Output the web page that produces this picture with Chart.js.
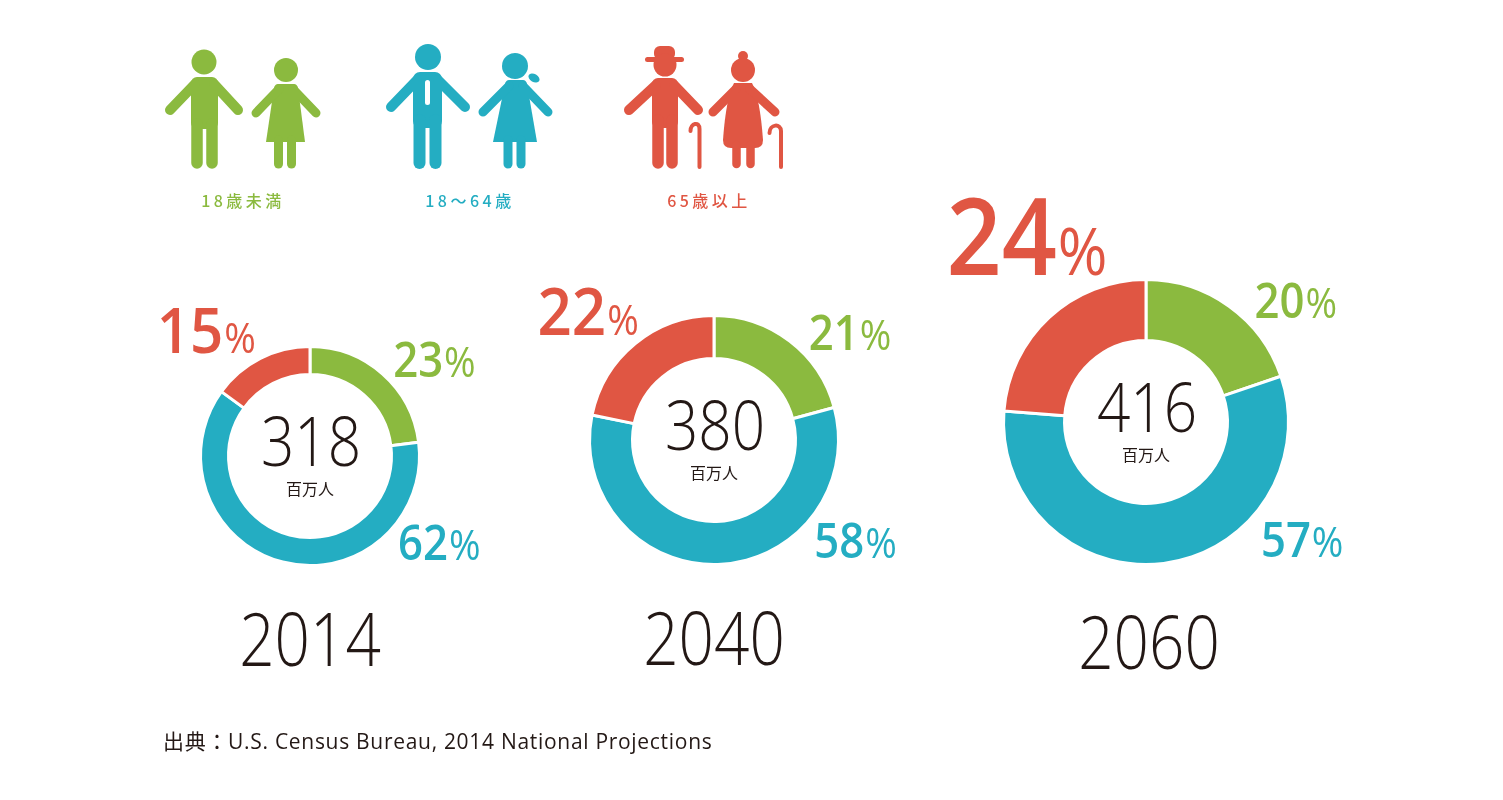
<!DOCTYPE html>
<html lang="ja">
<head>
<meta charset="utf-8">
<title>米国の年齢別人口構成</title>
<script src="https://cdn.jsdelivr.net/npm/chart.js@4.4.1/dist/chart.umd.min.js"></script>
<style>
  html, body { margin: 0; padding: 0; background: #fff; }
  #stage { position: relative; width: 1503px; height: 800px; overflow: hidden; }
  #stage canvas { position: absolute; left: 0; top: 0; }
  #icons { position: absolute; left: 0; top: 0; }
  .group-name {
    position: absolute; top: 191px; width: 160px; text-align: center;
    font: 500 16px "Noto Sans CJK JP", "Open Sans", sans-serif;
    letter-spacing: 3.5px; line-height: 18px;
  }
  #source {
    position: absolute; left: 163px; top: 731px;
    font: 21px "Open Sans", "Noto Sans CJK JP", sans-serif;
    letter-spacing: 0.7px; line-height: 20px; color: #231815;
  }
</style>
</head>
<body>
<div id="stage">
  <svg id="icons" width="1503" height="800" xmlns="http://www.w3.org/2000/svg">
    <!-- 18歳未満 -->
    <g fill="#8bba3f" stroke="#8bba3f" stroke-linecap="round">
      <circle cx="204" cy="62" r="12.5" stroke="none"/>
      <rect x="191" y="77" width="27" height="52" rx="6" stroke="none"/>
      <line x1="195" y1="84" x2="170" y2="110" stroke-width="10"/>
      <line x1="214" y1="84" x2="238" y2="110" stroke-width="10"/>
      <line x1="197" y1="124" x2="197" y2="163" stroke-width="11.5"/>
      <line x1="212" y1="124" x2="212" y2="163" stroke-width="11.5"/>

      <circle cx="286" cy="70" r="12" stroke="none"/>
      <path d="M278 84 L294 84 Q297 84 298 88 L305 142 L266 142 L274 88 Q275 84 278 84 Z" stroke="none"/>
      <line x1="279" y1="89" x2="256" y2="113" stroke-width="9"/>
      <line x1="293" y1="89" x2="316" y2="113" stroke-width="9"/>
      <line x1="278.5" y1="140" x2="278.5" y2="164" stroke-width="9"/>
      <line x1="291.5" y1="140" x2="291.5" y2="164" stroke-width="9"/>
    </g>
    <!-- 18〜64歳 -->
    <g fill="#24adc2" stroke="#24adc2" stroke-linecap="round">
      <circle cx="428" cy="57" r="13" stroke="none"/>
      <rect x="413" y="72" width="29" height="56" rx="7" stroke="none"/>
      <rect x="425" y="80" width="5" height="25" rx="2.5" fill="#fff" stroke="none"/>
      <line x1="417" y1="80" x2="391" y2="107" stroke-width="10"/>
      <line x1="438" y1="80" x2="465" y2="107" stroke-width="10"/>
      <line x1="419.5" y1="120" x2="419.5" y2="163" stroke-width="12"/>
      <line x1="435.5" y1="120" x2="435.5" y2="163" stroke-width="12"/>

      <ellipse cx="534" cy="78" rx="6" ry="4" transform="rotate(30 534 78)" stroke="none"/>
      <circle cx="515" cy="66" r="13" stroke="none"/>
      <path d="M509 80 L523 80 Q526 80 527 84 L537 142 L493 142 L505 84 Q506 80 509 80 Z" stroke="none"/>
      <line x1="509" y1="86" x2="483" y2="112" stroke-width="9"/>
      <line x1="523" y1="86" x2="548" y2="112" stroke-width="9"/>
      <line x1="508" y1="140" x2="508" y2="164" stroke-width="9"/>
      <line x1="521" y1="140" x2="521" y2="164" stroke-width="9"/>
    </g>
    <!-- 65歳以上 -->
    <g fill="#e05643" stroke="#e05643" stroke-linecap="round">
      <rect x="654" y="46" width="21" height="14" rx="6" stroke="none"/>
      <rect x="645" y="57" width="39" height="5" rx="2.5" stroke="none"/>
      <circle cx="665" cy="65" r="11.5" stroke="none"/>
      <rect x="652" y="78" width="26" height="50" rx="6" stroke="none"/>
      <line x1="656" y1="85" x2="629" y2="110" stroke-width="10"/>
      <line x1="674" y1="85" x2="698" y2="110" stroke-width="10"/>
      <line x1="658" y1="120" x2="658" y2="163" stroke-width="11.5"/>
      <line x1="672" y1="120" x2="672" y2="163" stroke-width="11.5"/>
      <path d="M690.5 131 C690.5 123 699.5 121 699.5 129 L699.5 167" fill="none" stroke-width="4"/>

      <circle cx="743" cy="56" r="5" stroke="none"/>
      <circle cx="743" cy="70" r="12" stroke="none"/>
      <path d="M734 83 L752 83 Q760 98 763 140 Q763 148 755 148 L731 148 Q723 148 723 140 Q726 98 734 83 Z" stroke="none"/>
      <line x1="736" y1="89" x2="713" y2="112" stroke-width="9"/>
      <line x1="750" y1="89" x2="775" y2="112" stroke-width="9"/>
      <line x1="736.5" y1="145" x2="736.5" y2="164" stroke-width="8.5"/>
      <line x1="750.5" y1="145" x2="750.5" y2="164" stroke-width="8.5"/>
      <path d="M769.5 133 C769.5 124 781 123 781 131 L781 167" fill="none" stroke-width="4"/>
    </g>
  </svg>
  <canvas id="c2014" width="1503" height="800"></canvas>
  <canvas id="c2040" width="1503" height="800"></canvas>
  <canvas id="c2060" width="1503" height="800"></canvas>
  <div id="source"></div>
</div>
<script>
// 年齢グループ
const groupNames = ['18歳未満', '18〜64歳', '65歳以上'];
const groupColors = ['#8bba3f', '#24adc2', '#e05643'];

// 年ごとの構成比（%）と総人口（百万人）
const years = ['2014', '2040', '2060'];
const totals = [318, 380, 416];
const share2014 = [23, 62, 15];
const share2040 = [21, 58, 22];
const share2060 = [20, 57, 24];
const shares = [share2014, share2040, share2060];

const unitLabel = '百万人';
const sourceNote = '出典：U.S. Census Bureau, 2014 National Projections';

// レイアウト（ドーナツの中心・半径）
const W = 1503, H = 800;
const centers = [[310, 456], [714, 440], [1146, 422]];
const ringRadius = [108, 123, 141];
const holeRadius = 83;
const yearGap = [102, 102, 106];
const textColor = '#231815';

// ラベル位置（外径に対する比率）と文字サイズ
const greenPlace = { align: 'left', dx: 0.77, dy: -0.735 };
const bluePlace = { align: 'left', dx: 0.815, dy: 0.96 };
const redPlace = [
  { align: 'right', dx: -0.51, dy: -0.955 },
  { align: 'right', dx: -0.62, dy: -0.855 },
  { align: 'right', dx: -0.28, dy: -1.04 }
];
const redSize = [[64, 42], [66, 42], [106, 66]];
const smallSize = [48, 42];
const pctSquash = 0.91;

// 横方向に縮めた文字（Myriad 風の字幅に寄せる）
function squashText(ctx, text, x, y, sx, align) {
  const w = ctx.measureText(text).width * sx;
  const left = align === 'center' ? x - w / 2 : align === 'right' ? x - w : x;
  ctx.save();
  ctx.textAlign = 'left';
  ctx.translate(left, y);
  ctx.scale(sx, 1);
  ctx.fillText(text, 0, 0);
  ctx.restore();
  return w;
}

function drawPercent(ctx, value, x, y, align, sizes, color) {
  const num = String(value);
  const numFont = `600 ${sizes[0]}px "Open Sans", sans-serif`;
  const pctFont = `400 ${sizes[1]}px "Open Sans", sans-serif`;
  ctx.save();
  ctx.fillStyle = color;
  ctx.textBaseline = 'alphabetic';
  ctx.font = numFont;
  const wNum = ctx.measureText(num).width * pctSquash;
  ctx.font = pctFont;
  const wPct = ctx.measureText('%').width * pctSquash;
  const start = align === 'right' ? x - wNum - wPct : x;
  ctx.font = numFont;
  squashText(ctx, num, start, y, pctSquash, 'left');
  ctx.font = pctFont;
  squashText(ctx, '%', start + wNum + 1, y, pctSquash, 'left');
  ctx.restore();
}

const ringText = {
  id: 'ringText',
  afterDraw(chart, args, opts) {
    const arc = chart.getDatasetMeta(0).data[0];
    if (!arc) return;
    const ctx = chart.ctx;
    const cx = arc.x, cy = arc.y, R = opts.R;
    const values = chart.data.datasets[0].data;
    const cols = chart.data.datasets[0].backgroundColor;

    ctx.save();
    ctx.fillStyle = textColor;
    ctx.textBaseline = 'alphabetic';

    // 中央の総人口
    ctx.font = '300 68px "Open Sans", sans-serif';
    squashText(ctx, String(opts.total), cx + 1, cy + 10, 0.86, 'center');
    ctx.textAlign = 'center';
    ctx.textBaseline = 'middle';
    ctx.font = '400 16px "Noto Sans CJK JP", sans-serif';
    ctx.fillText(unitLabel, cx, cy + 33);

    // 年
    ctx.textBaseline = 'alphabetic';
    ctx.font = '300 73px "Open Sans", sans-serif';
    squashText(ctx, opts.year, cx + opts.yearShift, cy + R + opts.yearGap, 0.85, 'center');
    ctx.restore();

    // 構成比ラベル
    const places = [greenPlace, bluePlace, opts.redPlace];
    const sizes = [smallSize, smallSize, opts.redSize];
    values.forEach((v, k) => {
      const p = places[k];
      drawPercent(ctx, v, cx + p.dx * R, cy + p.dy * R, p.align, sizes[k], cols[k]);
    });
  }
};

years.forEach((yr, i) => {
  const [cx, cy] = centers[i];
  const half = 200;
  new Chart(document.getElementById('c' + yr), {
    type: 'doughnut',
    data: {
      labels: groupNames,
      datasets: [{
        data: shares[i],
        backgroundColor: groupColors,
        borderColor: '#ffffff',
        borderWidth: 3,
        hoverBorderWidth: 3,
        hoverOffset: 0,
        offset: 0
      }]
    },
    options: {
      responsive: false,
      animation: false,
      events: [],
      radius: ringRadius[i] + 1.5,
      cutout: ((holeRadius - 1.5) / (ringRadius[i] + 1.5) * 100).toFixed(2) + '%',
      layout: {
        padding: { left: cx - half, right: W - cx - half, top: cy - half, bottom: H - cy - half }
      },
      plugins: {
        legend: { display: false },
        tooltip: { enabled: false },
        ringText: {
          R: ringRadius[i],
          total: totals[i],
          year: yr,
          yearGap: yearGap[i],
          yearShift: i === 2 ? 3 : 0,
          redPlace: redPlace[i],
          redSize: redSize[i]
        }
      }
    },
    plugins: [ringText]
  });
});

// 凡例ラベルと出典
const legendCenters = [243, 470, 709];
const stage = document.getElementById('stage');
groupNames.forEach((name, k) => {
  const d = document.createElement('div');
  d.className = 'group-name';
  d.textContent = name;
  d.style.left = (legendCenters[k] - 80) + 'px';
  d.style.color = groupColors[k];
  stage.appendChild(d);
});
document.getElementById('source').textContent = sourceNote;
</script>
</body>
</html>
